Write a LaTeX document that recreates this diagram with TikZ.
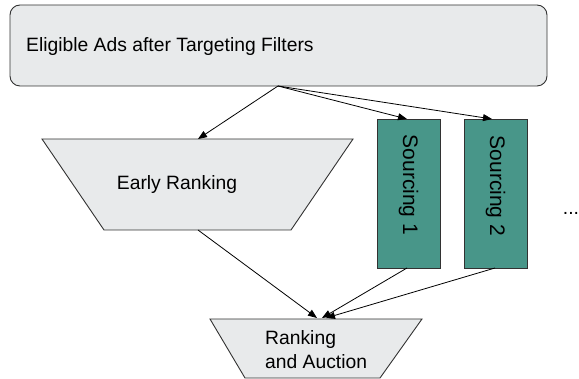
\documentclass[tikz,border=0pt]{standalone}
\usepackage{fontspec}
\setmainfont{Liberation Sans}
\usetikzlibrary{arrows.meta}
\definecolor{boxgray}{RGB}{232,234,235}
\definecolor{teal}{RGB}{72,150,137}
\definecolor{edge}{RGB}{50,50,50}
\tikzset{
  shapebox/.style={draw=edge, line width=0.9pt, fill=boxgray},
  srcbox/.style={draw=edge, line width=0.9pt, fill=teal},
  lbl/.style={font=\fontsize{19.3}{24}\selectfont, inner sep=0pt, text=black},
  srclbl/.style={font=\fontsize{21}{25}\selectfont, inner sep=0pt, text=black, rotate=-90},
  conn/.style={draw=black, line width=0.8pt, -{Triangle[length=9pt,width=7pt]}},
}
\begin{document}
\begin{tikzpicture}[x=1pt,y=-1pt]
\useasboundingbox (0,0) rectangle (579,379);
% top box
\draw[shapebox, rounded corners=10pt] (10,5) rectangle (547,86);
\node[lbl, anchor=west] (elig) at (26,47) {Eligible Ads after Targeting Filters};
% early ranking trapezoid
\draw[shapebox] (42,139) -- (353,139) -- (291,230) -- (104,230) -- cycle;
\node[lbl] (early) at (177,185) {Early Ranking};
% sourcing boxes
\draw[srcbox] (377,119) rectangle (440,268);
\node[srclbl] (src1) at (408.5,185) {Sourcing 1};
\draw[srcbox] (464,119) rectangle (527,268);
\node[srclbl] (src2) at (495.5,186) {Sourcing 2};
% ranking and auction trapezoid
\draw[shapebox] (210,319) -- (422,319) -- (380,378) -- (245,378) -- cycle;
\node[lbl, align=left, anchor=west] (rank) at (265,350) {Ranking\\and Auction};
% dots
\node[lbl] (dots) at (571,213) {...};
% connection points
\coordinate (topout) at (278,86);
\coordinate (earlyin) at (198,139);
\coordinate (src1in) at (407,119);
\coordinate (src2in) at (492,119);
\coordinate (earlyout) at (198,230);
\coordinate (src1out) at (407,268);
\coordinate (src2out) at (495,268);
\coordinate (rankin1) at (317,318);
\coordinate (rankin2) at (322,318);
\coordinate (rankin3) at (326,318);
% connectors
\draw[conn] (topout) -- (earlyin);
\draw[conn] (topout) -- (src1in);
\draw[conn] (topout) -- (src2in);
\draw[conn] (earlyout) -- (rankin1);
\draw[conn] (src1out) -- (rankin2);
\draw[conn] (src2out) -- (rankin3);
\end{tikzpicture}
\end{document}
